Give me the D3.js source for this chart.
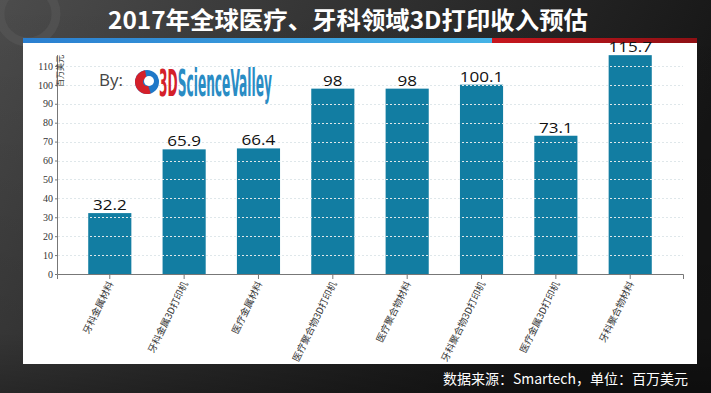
<!DOCTYPE html>
<html><head><meta charset="utf-8">
<script src="https://cdn.jsdelivr.net/npm/d3@7"></script>
<style>
html,body{margin:0;padding:0;background:#222;}
svg{display:block;}
</style></head>
<body>
<script>
const categories = ["牙科金属材料","牙科金属3D打印机","医疗金属材料","医疗聚合物3D打印机","医疗聚合物材料","牙科聚合物3D打印机","医疗金属3D打印机","牙科聚合物材料"];
const values = [32.2, 65.9, 66.4, 98, 98, 100.1, 73.1, 115.7];
const valueLabels = ["32.2","65.9","66.4","98","98","100.1","73.1","115.7"];
const yTicks = [0,10,20,30,40,50,60,70,80,90,100,110];
const titleText = "2017年全球医疗、牙科领域3D打印收入预估";
const unitText = "百万美元";
const sourceText = "数据来源：Smartech，单位：百万美元";

const W = 711, H = 393;
const svg = d3.select("body").append("svg").attr("width", W).attr("height", H);
const defs = svg.append("defs");

// background
const bg = defs.append("linearGradient").attr("id","bg").attr("x1","0").attr("y1","0").attr("x2","1").attr("y2","0.3");
bg.append("stop").attr("offset","0").attr("stop-color","#4c4c4c");
bg.append("stop").attr("offset","0.45").attr("stop-color","#333");
bg.append("stop").attr("offset","1").attr("stop-color","#151515");
svg.append("rect").attr("width",W).attr("height",H).attr("fill","url(#bg)");
const vg = defs.append("linearGradient").attr("id","vg").attr("x1","0").attr("y1","0").attr("x2","0").attr("y2","1");
vg.append("stop").attr("offset","0").attr("stop-color","#000").attr("stop-opacity",0);
vg.append("stop").attr("offset","0.85").attr("stop-color","#000").attr("stop-opacity",0.15);
vg.append("stop").attr("offset","1").attr("stop-color","#000").attr("stop-opacity",0.35);
svg.append("rect").attr("width",W).attr("height",H).attr("fill","url(#vg)");
svg.append("circle").attr("cx",28).attr("cy",14).attr("r",28).attr("fill","none").attr("stroke","#5a5a5a").attr("stroke-width",9).attr("opacity",0.5);

// title
svg.append("text").attr("x",348).attr("y",29).attr("text-anchor","middle")
  .attr("font-family","'Noto Sans CJK SC','Noto Sans',sans-serif").attr("font-weight","bold")
  .attr("font-size",24).attr("fill","#fff").attr("textLength",480).attr("lengthAdjust","spacingAndGlyphs")
  .text(titleText);

// stripes
const sb = defs.append("linearGradient").attr("id","sb");
sb.append("stop").attr("offset","0").attr("stop-color","#2a7fd0");
sb.append("stop").attr("offset","1").attr("stop-color","#45b3e6");
const sr = defs.append("linearGradient").attr("id","sr");
sr.append("stop").attr("offset","0").attr("stop-color","#c8161e");
sr.append("stop").attr("offset","1").attr("stop-color","#8e1014");
svg.append("rect").attr("x",23).attr("y",38).attr("width",469).attr("height",5).attr("fill","url(#sb)");
svg.append("rect").attr("x",492).attr("y",38).attr("width",205).attr("height",5).attr("fill","url(#sr)");

// white panel
svg.append("rect").attr("x",23).attr("y",43).attr("width",674).attr("height",321).attr("fill","#fff");

// scales
const x = d3.scaleBand().domain(categories).range([57,683]).paddingInner(0.42).paddingOuter(0.42);
const y = d3.scaleLinear().domain([0,116]).range([274,54.6]);

const g = svg.append("g");

// bars
g.selectAll("rect.bar").data(values).join("rect").attr("class","bar")
  .attr("x",(d,i)=>x(categories[i])).attr("width",x.bandwidth())
  .attr("y",d=>y(d)).attr("height",d=>y(0)-y(d)).attr("fill","#127da2");

// gridlines (drawn over bars)
g.selectAll("line.grid").data(yTicks.filter(t=>t>0)).join("line").attr("class","grid")
  .attr("x1",58).attr("x2",683).attr("y1",d=>Math.round(y(d))+0.5).attr("y2",d=>Math.round(y(d))+0.5)
  .attr("stroke","#dfe7ea").attr("stroke-width",1).attr("stroke-dasharray","2,2");

// y axis
const yAxis = d3.axisLeft(y).tickValues(yTicks).tickSize(2).tickSizeOuter(0).tickPadding(2);
const ya = g.append("g").attr("transform","translate(57,0)").call(yAxis);
ya.select(".domain").attr("stroke","#777");
ya.selectAll(".tick line").attr("stroke","#777");
ya.selectAll(".tick text").attr("font-family","'Liberation Serif','DejaVu Serif',serif").attr("font-size",10).attr("fill","#333");

// x axis
const xAxis = d3.axisBottom(x).tickSize(5).tickSizeOuter(5).tickFormat("");
const xa = g.append("g").attr("transform","translate(0,274)").call(xAxis);
xa.select(".domain").attr("stroke","#777");
xa.selectAll(".tick line").attr("stroke","#777");

// rotated x labels
g.selectAll("text.xl").data(categories).join("text").attr("class","xl")
  .attr("transform",d=>`translate(${x(d)+x.bandwidth()/2+1},282) rotate(-64)`)
  .attr("dy","0.35em").attr("text-anchor","end")
  .attr("font-family","'Noto Sans CJK SC',sans-serif").attr("font-size",9.5).attr("fill","#333")
  .text(d=>d);

// value labels (horizontally stretched like the reference)
g.selectAll("text.vl").data(values).join("text").attr("class","vl")
  .attr("transform",(d,i)=>`translate(${x(categories[i])+x.bandwidth()/2},${y(d)-3}) scale(1.22,1)`)
  .attr("text-anchor","middle").attr("font-family","'Open Sans','Liberation Sans',sans-serif")
  .attr("font-size",14).attr("fill","#111").text((d,i)=>valueLabels[i]);

// unit label
svg.append("text").attr("transform","translate(63,55) rotate(-90)").attr("text-anchor","end")
  .attr("font-family","'Noto Sans CJK SC',sans-serif").attr("font-size",8).attr("fill","#333").text(unitText);

// logo
svg.append("text").attr("x",99).attr("y",86).attr("font-family","'Open Sans','Liberation Sans',sans-serif")
  .attr("font-size",17).attr("fill","#444").text("By:");
const lg = svg.append("g").attr("transform","translate(147,82)");
lg.append("circle").attr("r",12).attr("fill","#1f78c8");
lg.append("path").attr("d",d3.arc()({innerRadius:4,outerRadius:12,startAngle:Math.PI*0.9,endAngle:Math.PI*1.95})).attr("fill","#d4202a");
lg.append("circle").attr("cx",2).attr("cy",-1).attr("r",5).attr("fill","#fff");
const lt = svg.append("text").attr("transform","translate(159,96) scale(1.05,2.6)")
  .attr("font-family","'DejaVu Sans Condensed','Liberation Sans Narrow',sans-serif")
  .attr("font-weight","bold").attr("font-size",14).attr("textLength",107.6).attr("lengthAdjust","spacingAndGlyphs");
lt.append("tspan").attr("fill","#d4202a").text("3D");
lt.append("tspan").attr("fill","#2a8cc4").text("ScienceValley");

// footer
svg.append("text").attr("x",688).attr("y",384).attr("text-anchor","end")
  .attr("font-family","'Noto Sans CJK SC',sans-serif").attr("font-size",14).attr("fill","#fff").text(sourceText);
</script>
</body></html>
